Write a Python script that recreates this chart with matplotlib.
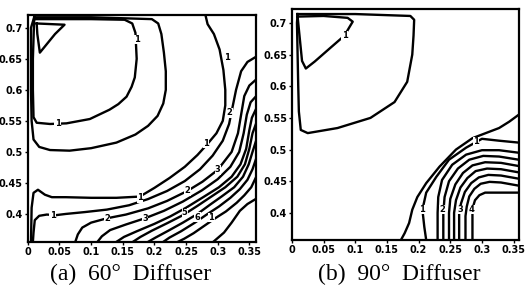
import matplotlib
matplotlib.use("Agg")
import matplotlib.pyplot as plt

# ---- (a) 60 deg diffuser : contour lines ----
a_tri_x = [.014, .058, .043, .019, .015, .014]
a_tri_y = [.707, .705, .690, .660, .690, .707]

a_in_x = [.010, .100, .153, .165, .170, .172, .169, .164, .156, .143, .129, .098, .061, .035, .014, .009, .008, .008, .010]
a_in_y = [.714, .714, .713, .707, .692, .650, .620, .605, .589, .577, .568, .553, .546, .545, .547, .556, .600, .650, .714]

a_out_x = [.010, .100, .196, .206, .211, .215, .218, .218, .214, .205, .190, .170, .140, .100, .066, .035, .018, .009, .006, .005, .005, .010]
a_out_y = [.717, .717, .714, .707, .690, .660, .630, .600, .578, .558, .542, .528, .515, .506, .502, .503, .508, .520, .550, .600, .700, .717]

a1_x = [.281, .284, .294, .303, .309, .312, .312, .308, .298, .284, .268, .248, .224, .200, .177, .140, .100, .060, .038, .027, .016, .009, .006, .005]
a1_y = [.719, .706, .690, .665, .632, .600, .575, .550, .530, .513, .495, .476, .458, .442, .428, .426, .426, .427, .427, .431, .439, .434, .410, .355]
a2_x = [.360, .347, .337, .329, .323, .318, .308, .292, .272, .248, .220, .190, .160, .125, .090, .060, .044, .030, .018, .011, .009, .008]
a2_y = [.653, .645, .630, .600, .570, .545, .518, .494, .472, .453, .437, .424, .414, .407, .403, .400, .398, .399, .397, .390, .370, .355]
a3_x = [.360, .350, .342, .337, .332, .322, .300, .276, .252, .220, .190, .155, .125, .100, .086, .079, .075]
a3_y = [.616, .607, .590, .560, .530, .500, .471, .452, .437, .421, .409, .399, .393, .386, .378, .367, .355]
a4_x = [.360, .352, .346, .341, .334, .320, .300, .275, .245, .215, .185, .155, .130, .117, .110]
a4_y = [.589, .580, .560, .530, .500, .476, .456, .438, .420, .405, .393, .383, .374, .364, .355]
a5_x = [.360, .354, .350, .345, .336, .322, .302, .277, .250, .225, .200, .172, .152, .140]
a5_y = [.568, .555, .535, .505, .480, .460, .443, .427, .410, .396, .384, .372, .363, .355]
a6_x = [.360, .355, .350, .343, .331, .312, .290, .268, .245, .220, .196, .178, .166]
a6_y = [.544, .530, .505, .480, .460, .443, .428, .413, .398, .385, .373, .363, .355]
a7_x = [.360, .355, .349, .340, .326, .306, .288, .268, .245, .222, .202, .190]
a7_y = [.516, .500, .480, .460, .443, .428, .415, .400, .386, .373, .362, .355]
a8_x = [.360, .355, .347, .335, .320, .302, .284, .264, .242, .224, .214]
a8_y = [.487, .472, .455, .440, .426, .412, .400, .386, .372, .362, .355]
a9_x = [.360, .353, .342, .330, .313, .296, .279, .262, .247, .237]
a9_y = [.458, .443, .430, .418, .404, .393, .381, .369, .360, .355]
a10_x = [.293, .310, .322, .335, .347, .360]
a10_y = [.355, .370, .386, .405, .416, .424]

a_lab_txt = ["1", "1", "1", "2", "1", "3", "2", "1", "1", "2", "3", "5", "6", "1"]
a_lab_x = [.172, .047, .314, .319, .282, .300, .252, .177, .039, .125, .185, .248, .268, .290]
a_lab_y = [.681, .545, .652, .563, .514, .471, .437, .426, .398, .392, .392, .402, .395, .394]

# ---- (b) 90 deg diffuser ----
b_tri_x = [.009, .050, .088, .096, .090, .083, .060, .036, .022, .016, .013, .010, .009]
b_tri_y = [.710, .711, .708, .702, .692, .680, .660, .639, .628, .640, .670, .700, .710]

b_loop_x = [.009, .100, .187, .193, .192, .190, .182, .162, .124, .072, .025, .014, .011, .010, .009, .008, .009]
b_loop_y = [.714, .714, .711, .705, .680, .650, .607, .575, .550, .534, .526, .531, .560, .600, .650, .700, .714]

b1_x = [.172, .178, .185, .190, .198, .212, .233, .259, .285, .306, .327, .343, .358]
b1_y = [.357, .368, .384, .405, .425, .447, .473, .500, .518, .526, .534, .544, .555]
b2_x = [.358, .327, .300, .291, .275, .248, .228, .212, .206, .209, .212]
b2_y = [.511, .514, .517, .512, .503, .484, .457, .432, .405, .378, .357]
b3_x = [.358, .327, .300, .275, .253, .237, .231, .230, .230]
b3_y = [.495, .499, .499, .492, .476, .452, .425, .400, .357]
b4_x = [.358, .327, .302, .280, .262, .248, .241, .239, .239]
b4_y = [.484, .489, .490, .484, .470, .450, .425, .400, .357]
b5_x = [.358, .330, .305, .285, .270, .258, .250, .248, .248]
b5_y = [.474, .479, .480, .475, .463, .445, .422, .400, .357]
b6_x = [.358, .330, .308, .290, .277, .266, .259, .256, .256]
b6_y = [.464, .469, .470, .466, .455, .440, .420, .400, .357]
b7_x = [.358, .330, .310, .295, .283, .273, .267, .264, .264]
b7_y = [.454, .459, .460, .456, .447, .433, .415, .400, .357]
b8_x = [.358, .330, .312, .298, .288, .280, .276, .274, .274]
b8_y = [.443, .448, .449, .446, .438, .426, .410, .395, .357]
b9_x = [.358, .330, .305, .296, .289, .286, .285, .285]
b9_y = [.432, .432, .432, .428, .420, .410, .400, .357]

b_lab_txt = ["1", "1", "1", "2", "3", "4"]
b_lab_x = [.083, .291, .206, .237, .266, .284]
b_lab_y = [.680, .512, .405, .405, .405, .405]

x_ticks = [0, .05, .1, .15, .2, .25, .3, .35]
x_tick_labels = ["0", "0.05", "0.1", "0.15", "0.2", "0.25", "0.3", "0.35"]
y_ticks = [.4, .45, .5, .55, .6, .65, .7]
y_tick_labels = ["0.4", "0.45", "0.5", "0.55", "0.6", "0.65", "0.7"]

panels = [
    dict(rect=[0.053, 0.166, 0.434, 0.783], xlim=(0, .36), ylim=(.355, .721),
         lines=[(a_tri_x, a_tri_y), (a_in_x, a_in_y), (a_out_x, a_out_y),
                (a1_x, a1_y), (a2_x, a2_y), (a3_x, a3_y), (a4_x, a4_y), (a5_x, a5_y),
                (a6_x, a6_y), (a7_x, a7_y), (a8_x, a8_y), (a9_x, a9_y), (a10_x, a10_y)],
         labels=(a_lab_txt, a_lab_x, a_lab_y), title="(a)  60°  Diffuser", tx=0.248),
    dict(rect=[0.556, 0.172, 0.432, 0.797], xlim=(0, .358), ylim=(.357, .722),
         lines=[(b_tri_x, b_tri_y), (b_loop_x, b_loop_y), (b1_x, b1_y), (b2_x, b2_y),
                (b3_x, b3_y), (b4_x, b4_y), (b5_x, b5_y), (b6_x, b6_y), (b7_x, b7_y),
                (b8_x, b8_y), (b9_x, b9_y)],
         labels=(b_lab_txt, b_lab_x, b_lab_y), title="(b)  90°  Diffuser", tx=0.76),
]

fig = plt.figure(figsize=(5.25, 2.9), dpi=100)
for p in panels:
    ax = fig.add_axes(p["rect"])
    for xs, ys in p["lines"]:
        ax.plot(xs, ys, color="black", lw=1.7, solid_joinstyle="round", clip_on=True)
    txt, lx, ly = p["labels"]
    for t, x, y in zip(txt, lx, ly):
        ax.text(x, y, t, fontsize=6, fontweight="bold", ha="center", va="center",
                bbox=dict(fc="white", ec="none", pad=0.2))
    ax.set_xlim(*p["xlim"])
    ax.set_ylim(*p["ylim"])
    ax.set_xticks(x_ticks)
    ax.set_xticklabels(x_tick_labels)
    ax.set_yticks(y_ticks)
    ax.set_yticklabels(y_tick_labels)
    ax.tick_params(direction="out", length=2, width=1, pad=1.5, labelsize=7)
    for lab in ax.get_xticklabels() + ax.get_yticklabels():
        lab.set_fontweight("bold")
    for s in ax.spines.values():
        s.set_linewidth(1.6)
    fig.text(p["tx"], 0.052, p["title"], ha="center", va="center",
             fontsize=17, family="Liberation Serif")

fig.savefig("out.png", dpi=100)
